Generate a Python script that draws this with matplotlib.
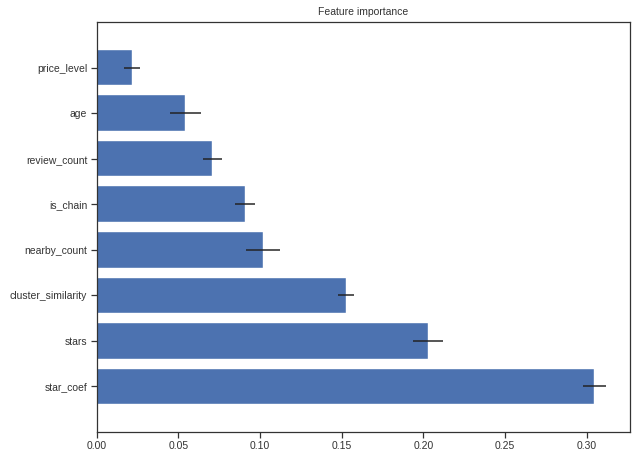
import matplotlib
matplotlib.use("Agg")
import matplotlib.pyplot as plt
import seaborn as sns

sns.set_theme(style="ticks", context="notebook")
plt.rcParams["font.family"] = ["Liberation Sans", "DejaVu Sans"]

features = ["star_coef", "stars", "cluster_similarity", "nearby_count",
            "is_chain", "review_count", "age", "price_level"]
importances = [0.3045, 0.2027, 0.1527, 0.1020, 0.0910, 0.0708, 0.0543, 0.0218]
std = [0.0071, 0.0091, 0.0048, 0.0105, 0.0062, 0.0060, 0.0093, 0.0050]

fig = plt.figure(figsize=(632 / 72, 453 / 72), dpi=72)
ax = fig.add_axes([0.153, 0.0464, 0.844, 0.905])

positions = range(len(features))
ax.barh(positions, importances, xerr=std, align="center", height=0.78,
        color="#4C72B0", edgecolor="white", linewidth=0.4,
        error_kw=dict(ecolor="#222222", elinewidth=1.5, capsize=0))
ax.set_yticks(list(positions))
ax.set_yticklabels(features)
ax.set_ylim(-1, len(features))
ax.set_xlim(0, 0.3265)
ax.set_xticks([0.0, 0.05, 0.10, 0.15, 0.20, 0.25, 0.30])
ax.set_xticklabels(["0.00", "0.05", "0.10", "0.15", "0.20", "0.25", "0.30"])
ax.tick_params(labelsize=10.4, colors="#333333", length=6, width=1.25)
ax.set_title("Feature importance", fontsize=10.4, color="#333333", pad=7)
for s in ax.spines.values():
    s.set_color("#333333")
    s.set_linewidth(1.25)

fig.savefig("out.png", dpi=72)
